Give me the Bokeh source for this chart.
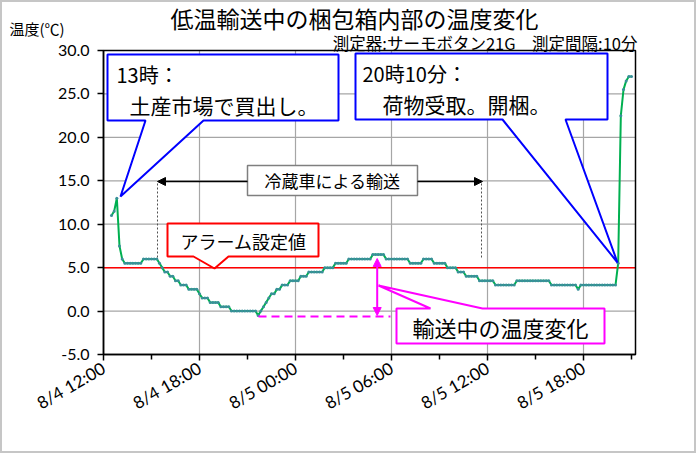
import math
from bokeh.plotting import figure
from bokeh.models import Range1d, FixedTicker, NumeralTickFormatter, Label, Arrow, NormalHead
from bokeh.embed import file_html
from bokeh.resources import INLINE

# ---------------- data ----------------
# measurement start: 8/4 12:30 (hours after 8/4 12:00), interval 10 min
start_hour = 0.5
interval_hour = 10 / 60
temps = [
    11.0, 11.5, 13.0,                      # 8/4 12:30-12:50
    7.5, 6.0, 5.5, 5.5, 5.5, 5.5,          # 13
    5.5, 5.5, 5.5, 6.0, 6.0, 6.0,          # 14
    6.0, 6.0, 6.0, 5.5, 5.0, 4.5,          # 15
    4.5, 4.0, 4.0, 3.5, 3.5, 3.0,          # 16
    3.0, 3.0, 2.5, 2.5, 2.5, 2.5,          # 17
    2.0, 1.5, 1.5, 1.5, 1.0, 1.0,          # 18
    1.0, 1.0, 0.5, 0.5, 0.5, 0.5,          # 19
    0.0, 0.0, 0.0, 0.0, 0.0, 0.0,          # 20
    0.0, 0.0, 0.0, 0.0, -0.5, 0.0,         # 21
    0.5, 1.0, 1.5, 2.0, 2.0, 2.5,          # 22
    2.5, 3.0, 3.0, 3.0, 3.5, 3.5,          # 23
    3.5, 3.5, 4.0, 4.0, 4.0, 4.5,          # 8/5 00
    4.5, 4.5, 4.5, 4.5, 4.5, 5.0,          # 01
    5.0, 5.0, 5.0, 5.5, 5.5, 5.5,          # 02
    5.5, 5.5, 6.0, 6.0, 6.0, 6.0,          # 03
    6.0, 6.0, 6.0, 6.0, 6.0, 6.5,          # 04
    6.5, 6.5, 6.5, 6.5, 6.0, 6.0,          # 05
    6.0, 6.0, 6.0, 6.0, 6.0, 6.0,          # 06
    6.0, 5.5, 5.5, 5.5, 5.5, 5.5,          # 07
    6.0, 6.0, 6.0, 6.0, 5.5, 5.5,          # 08
    5.5, 5.5, 5.5, 5.0, 5.0, 5.0,          # 09
    5.0, 4.5, 4.5, 4.5, 4.0, 4.0,          # 10
    4.0, 4.0, 4.0, 3.5, 3.5, 3.5,          # 11
    3.5, 3.5, 3.5, 3.0, 3.0, 3.0,          # 12
    3.0, 3.0, 3.0, 3.0, 3.0, 3.5,          # 13
    3.5, 3.5, 3.5, 3.5, 3.5, 3.5,          # 14
    3.5, 3.5, 3.5, 3.5, 3.5, 3.5,          # 15
    3.0, 3.0, 3.0, 3.0, 3.0, 3.0,          # 16
    3.0, 3.0, 3.0, 3.0, 2.5, 3.0,          # 17
    3.0, 3.0, 3.0, 3.0, 3.0, 3.0,          # 18
    3.0, 3.0, 3.0, 3.0, 3.0, 3.0,          # 19
    3.0, 5.5, 22.5, 25.5, 26.5, 27.0,      # 20
    27.0,                                   # 21:00
]
hours = [start_hour + i * interval_hour for i in range(len(temps))]

tick_hours = [0, 6, 12, 18, 24, 30]
tick_labels = ["8/4 12:00", "8/4 18:00", "8/5 00:00", "8/5 06:00", "8/5 12:00", "8/5 18:00"]
minor_hours = [3, 9, 15, 21, 27, 33]
y_ticks = [-5, 0, 5, 10, 15, 20, 25, 30]
x_axis_end = 33.25
alarm_value = 5.0

title_text = "低温輸送中の梱包箱内部の温度変化"
subtitle_text = "測定器:サーモボタン21G\u3000測定間隔:10分"
ylabel_text = "温度(℃)"

JP = "Noto Sans CJK JP"
NUM = "Lato"

# ---------------- geometry (page pixels) ----------------
W, H = 696, 453            # canvas; a 2px CSS border makes 700x457
FL, FT = 103, 50           # page px of plot-area left (hour 0) and top (30.0)
PXH = 16.0                 # px per hour
PXT = 304 / 35             # px per degree
Y_TOP = y_ticks[-1]
Y_BOT = y_ticks[0]

def DX(px):
    return (px - FL) / PXH

def DY(py):
    return Y_TOP - (py - FT) / PXT

p = figure(width=W, height=H, output_backend="svg", toolbar_location=None,
           x_range=Range1d(DX(2), DX(2 + W)), y_range=Range1d(DY(2 + H), DY(2)),
           min_border_left=0, min_border_right=0, min_border_top=0, min_border_bottom=0)
p.styles = {"border": "2px solid #c6c6c6"}
p.background_fill_color = "white"
p.border_fill_color = "white"
p.outline_line_color = None
p.grid.visible = False

# axes pinned to the plot-area edges
p.xaxis.fixed_location = Y_BOT
p.xaxis.bounds = (0, x_axis_end)
p.yaxis.fixed_location = 0
p.yaxis.bounds = (Y_BOT, Y_TOP)
p.xaxis.ticker = FixedTicker(ticks=tick_hours, minor_ticks=minor_hours)
p.xaxis.major_label_overrides = {h: lab for h, lab in zip(tick_hours, tick_labels)}
p.xaxis.major_label_orientation = math.pi / 6
p.yaxis.ticker = FixedTicker(ticks=y_ticks)
p.yaxis.formatter = NumeralTickFormatter(format="0.0")
for ax in (p.xaxis[0], p.yaxis[0]):
    ax.axis_line_color = "black"
    ax.axis_line_width = 1.5
    ax.major_tick_line_color = "black"
    ax.major_tick_line_width = 1.5
    ax.major_tick_in = 0
    ax.major_tick_out = 6
    ax.minor_tick_in = 0
    ax.major_label_text_font = NUM
    ax.major_label_text_color = "black"
p.xaxis.major_label_text_font_size = "17px"
p.yaxis.major_label_text_font_size = "16px"
p.xaxis.minor_tick_out = 5
p.xaxis.minor_tick_line_color = "black"
p.xaxis.minor_tick_line_width = 1.5
p.yaxis.minor_tick_out = 0
p.yaxis.major_label_standoff = 8
p.xaxis.major_label_standoff = 6

# grid lines inside the plot area
gx = [h for h in tick_hours if h > 0]
p.segment(x0=gx, y0=[Y_BOT] * len(gx), x1=gx, y1=[Y_TOP] * len(gx),
          line_color="#a6a6a6", line_width=1.2)
gy = [t for t in y_ticks if Y_BOT < t < Y_TOP]
p.segment(x0=[0] * len(gy), y0=gy, x1=[x_axis_end] * len(gy), y1=gy,
          line_color="#a6a6a6", line_width=1.2)

# alarm line
p.segment(x0=[0], y0=[alarm_value], x1=[x_axis_end], y1=[alarm_value],
          line_color="#ff0000", line_width=1.5)

# plot-area border
p.quad(left=[0], right=[x_axis_end], bottom=[Y_BOT], top=[Y_TOP],
       fill_color=None, line_color="black", line_width=1.5)

# series
p.line(hours, temps, line_color="#00b050", line_width=2)
p.scatter(hours, temps, size=3, marker="circle", fill_color="#3a8f9a", line_color=None)

# ---------------- annotations ----------------
def box(pts, color, width=2):
    p.patch([DX(x) for x, _ in pts], [DY(y) for _, y in pts],
            fill_color="white", line_color=color, line_width=width)

box([(107, 54), (338, 54), (338, 120), (203, 120), (120, 196), (145, 120), (107, 120)], "#0000ff")
box([(355, 53), (607, 53), (607, 119), (565, 119), (617, 262), (502, 119), (355, 119)], "#0000ff")
box([(167, 223), (318, 223), (318, 256), (228, 256), (214, 268), (193, 256), (167, 256)], "#ff0000")
box([(396, 308), (430, 308), (378, 285), (482, 308), (604, 308), (604, 343), (396, 343)], "#ff00ff")
box([(247, 165), (417, 165), (417, 195), (247, 195)], "#7f7f7f", 1.5)

for xp in (157, 481):
    p.line([DX(xp), DX(xp)], [DY(183), DY(259)], line_color="#505050",
           line_width=1, line_dash="2 2")

p.add_layout(Arrow(end=NormalHead(size=8, fill_color="black", line_color="black"),
                   x_start=DX(247), y_start=DY(181), x_end=DX(157), y_end=DY(181),
                   line_color="black", line_width=1.5))
p.add_layout(Arrow(end=NormalHead(size=8, fill_color="black", line_color="black"),
                   x_start=DX(417), y_start=DY(181), x_end=DX(482), y_end=DY(181),
                   line_color="black", line_width=1.5))

p.line([DX(258), DX(390)], [DY(316), DY(316)], line_color="#ff00ff", line_width=2, line_dash="8 5")
p.add_layout(Arrow(start=NormalHead(size=8, fill_color="#ff00ff", line_color="#ff00ff"),
                   end=NormalHead(size=8, fill_color="#ff00ff", line_color="#ff00ff"),
                   x_start=DX(376.7), y_start=DY(315), x_end=DX(376.7), y_end=DY(258),
                   line_color="#ff00ff", line_width=2))

def label(px, py, text, size, align="left", font=JP):
    p.add_layout(Label(x=DX(px), y=DY(py), text=text, text_font=font,
                       text_font_size=size, text_align=align, text_baseline="middle",
                       text_color="black"))

label(116, 74, "13時：", "20px")
label(129, 104, "土産市場で買出し。", "21px")
label(362, 73, "20時10分：", "20px")
label(382, 103, "荷物受取。開梱。", "21px")
label(332, 180, "冷蔵車による輸送", "17px", "center")
label(243, 240, "アラーム設定値", "18px", "center")
label(500, 326, "輸送中の温度変化", "22px", "center")

label(354, 17, title_text, "23px", "center")
label(637, 42, subtitle_text, "16.5px", "right")
label(9, 28, ylabel_text, "15px", "left")

open("out.html", "w").write(file_html(p, INLINE))
